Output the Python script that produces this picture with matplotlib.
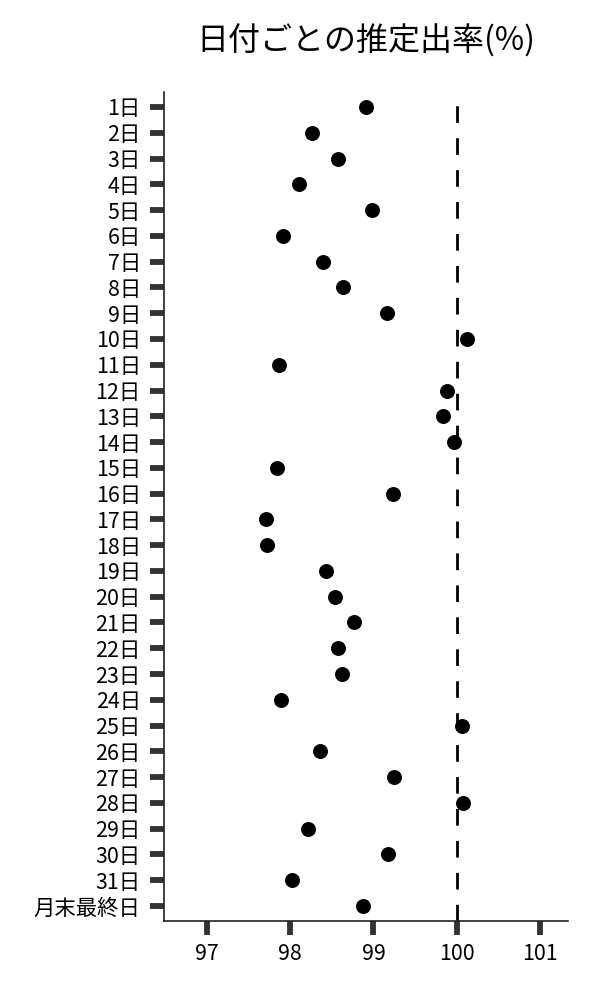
import matplotlib
matplotlib.use("Agg")
import matplotlib.pyplot as plt

plt.rcParams["font.family"] = ["Noto Sans CJK JP", "DejaVu Sans"]

# =========================
# データ
# =========================
days = [f"{i}日" for i in range(1, 32)] + ["月末最終日"]
rates = [
    98.91, 98.26, 98.58, 98.11, 98.98, 97.91, 98.40, 98.63, 99.16, 100.13,
    97.87, 99.88, 99.84, 99.97, 97.84, 99.24, 97.71, 97.72, 98.43, 98.54,
    98.77, 98.58, 98.62, 97.89, 100.06, 98.36, 99.25, 100.08, 98.21, 99.17,
    98.02, 98.87,
]
x_ticks = [97, 98, 99, 100, 101]
ref_value = 100

# =========================
# 描画
# =========================
fig = plt.figure(figsize=(6, 10), dpi=100)
ax = fig.add_axes([0.274, 0.079, 0.673, 0.829])

pos = list(range(len(days)))
ax.scatter(rates, pos, s=95, color="black", zorder=3)
ax.axvline(ref_value, color="black", lw=2, dashes=(6, 5.5), zorder=2)

ax.set_yticks(pos)
ax.set_yticklabels(days)
ax.set_ylim(len(days) - 1 + 0.58, -0.58)
ax.set_xticks(x_ticks)
ax.set_xlim(96.49, 101.34)

for s in ["top", "right"]:
    ax.spines[s].set_visible(False)
for s in ["left", "bottom"]:
    ax.spines[s].set_linewidth(1.2)
    ax.spines[s].set_color("#222222")

ax.tick_params(axis="both", length=10, width=4.2, color="#333333",
               labelsize=15.4)
ax.tick_params(axis="y", pad=7)
ax.tick_params(axis="x", pad=6)

ax.set_title("日付ごとの推定出率(%)", fontsize=23, pad=30)

fig.savefig("out.png", dpi=100)
